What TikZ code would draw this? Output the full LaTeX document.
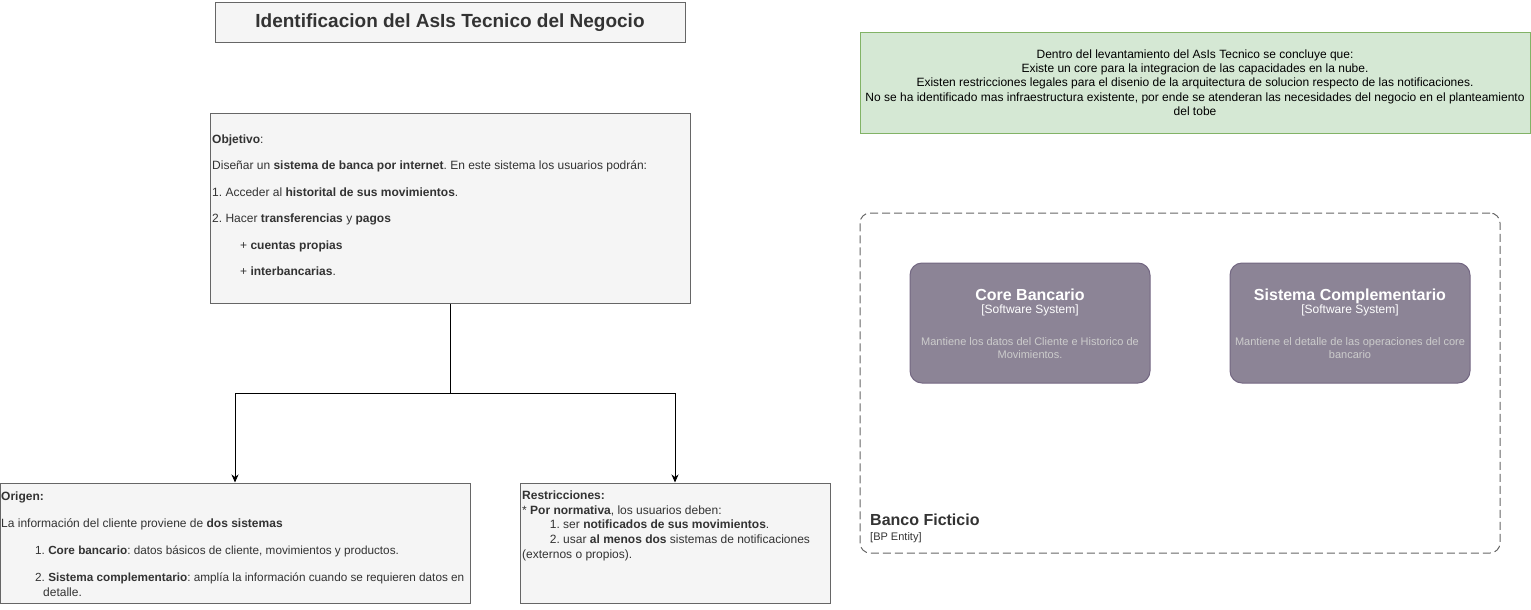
\documentclass[tikz,border=0pt]{standalone}
\usepackage{fontspec}
\setmainfont{Liberation Sans}
\usetikzlibrary{arrows.meta,calc}
\definecolor{boxfill}{HTML}{F5F5F5}
\definecolor{boxline}{HTML}{666666}
\definecolor{txt}{HTML}{333333}
\definecolor{greenfill}{HTML}{D5E8D4}
\definecolor{greenline}{HTML}{82B366}
\definecolor{sysfill}{HTML}{8C8496}
\definecolor{sysline}{HTML}{736782}
\definecolor{desc}{HTML}{CCCCCC}
\newcommand{\myfs}[2]{\fontsize{#1}{#2}\selectfont}
\frenchspacing
\begin{document}
\frenchspacing
\begin{tikzpicture}[x=1pt,y=-1pt,
  box/.style={draw=boxline,fill=boxfill,line width=1pt,inner sep=0pt,rectangle},
  txtblock/.style={inner sep=0pt,text=txt,align=left,anchor=north west},
  sysbox/.style={draw=sysline,fill=sysfill,line width=1pt,rounded corners=12pt,minimum width=240pt,minimum height=120pt,inner sep=0pt},
  systitle/.style={inner sep=0pt,text=white,anchor=base,font=\bfseries\myfs{16}{19}},
  syssub/.style={inner sep=0pt,text=white,anchor=base,font=\myfs{12}{14}},
  sysdesc/.style={inner sep=0pt,text=desc,anchor=north,align=center,font=\myfs{11}{13.5}},
  arr/.style={-{Stealth[length=8pt,width=7pt,inset=2.5pt]},line width=1pt,black},
  conn/.style={line width=1pt,black}]
\useasboundingbox (0,0) rectangle (1531,610);

% title
\node[box,minimum width=470pt,minimum height=40pt,text=txt,font=\bfseries\myfs{19}{22}] (title) at (450,23) {Identificacion del AsIs Tecnico del Negocio};

% objetivo
\node[box,minimum width=480pt,minimum height=190pt] (obj) at (450,208) {};
\node[txtblock,font=\myfs{12}{26.5}] (objtxt) at (212,134.2) {\textbf{Objetivo}:\\
Diseñar un \textbf{sistema de banca por internet}. En este sistema los usuarios podrán:\\
1. Acceder al \textbf{historital de sus movimientos}.\\
2. Hacer \textbf{transferencias} y \textbf{pagos}\\
\hspace*{28pt}+ \textbf{cuentas propias}\\
\hspace*{28pt}+ \textbf{interbancarias}.};

% origen
\node[box,minimum width=470pt,minimum height=120pt] (org) at (235,543) {};
\node[txtblock,font=\myfs{12}{15}] (orgtxt) at (1,491.7) {\textbf{Origen:}\\[11.6pt]
La información del cliente proviene de \textbf{dos sistemas}\\[12.7pt]
\hspace*{34pt}{\myfs{11.75}{15}1. \textbf{Core bancario}: datos básicos de cliente, movimientos y productos.}\\[11.7pt]
\hspace*{34pt}{\myfs{11.75}{15}2. \textbf{Sistema complementario}: amplía la información cuando se requieren datos en}\\
\hspace*{42pt}detalle.};

% restricciones
\node[box,minimum width=310pt,minimum height=120pt] (res) at (675,543) {};
\node[txtblock,font=\myfs{12}{14.6}] (restxt) at (522,490.7) {\textbf{Restricciones:}\\
* \textbf{Por normativa}, los usuarios deben:\\
\hspace*{27.7pt}1. ser \textbf{notificados de sus movimientos}.\\
\hspace*{27.7pt}2. usar \textbf{al menos dos} sistemas de notificaciones\\
(externos o propios).};

% connectors
\coordinate (j) at (obj.south |- 0,393);
\draw[conn] (obj.south) -- (j);
\draw[arr] (j) -| (org.north);
\draw[arr] (j) -| (res.north);

% green note
\node[draw=greenline,fill=greenfill,line width=1pt,minimum width=670pt,minimum height=100pt,inner sep=0pt] (note) at (1195,83) {};
\node[inner sep=0pt,text=black,align=center,anchor=north,font=\myfs{12}{14.3}] (notetxt) at (1195,49.4) {Dentro del levantamiento del AsIs Tecnico se concluye que:\\
Existe un core para la integracion de las capacidades en la nube.\\
Existen restricciones legales para el disenio de la arquitectura de solucion respecto de las notificaciones.\\
No se ha identificado mas infraestructura existente, por ende se atenderan las necesidades del negocio en el planteamiento\\
del tobe};

% boundary
\node[draw=boxline,line width=1pt,dash pattern=on 8pt off 4pt,rounded corners=10pt,minimum width=640pt,minimum height=340pt,inner sep=0pt] (bank) at (1180,383) {};
\node[inner sep=0pt,text=txt,anchor=base west,font=\bfseries\myfs{16}{19}] (bankname) at (870,525.7) {Banco Ficticio};
\node[inner sep=0pt,text=txt,anchor=base west,font=\myfs{11}{13}] (banktype) at (870,540) {[BP Entity]};

% systems
\node[sysbox] (core) at (1030,323) {};
\node[systitle] (coret) at (1030,300.5) {Core Bancario};
\node[syssub] (cores) at (1030,313.5) {[Software System]};
\node[sysdesc] (cored) at (1030,337) {Mantiene los datos del Cliente e Historico de\\Movimientos.};

\node[sysbox] (comp) at (1350,323) {};
\node[systitle] (compt) at (1350,300.5) {Sistema Complementario};
\node[syssub] (comps) at (1350,313.5) {[Software System]};
\node[sysdesc] (compd) at (1350,337) {Mantiene el detalle de las operaciones del core\\bancario};
\end{tikzpicture}
\end{document}
